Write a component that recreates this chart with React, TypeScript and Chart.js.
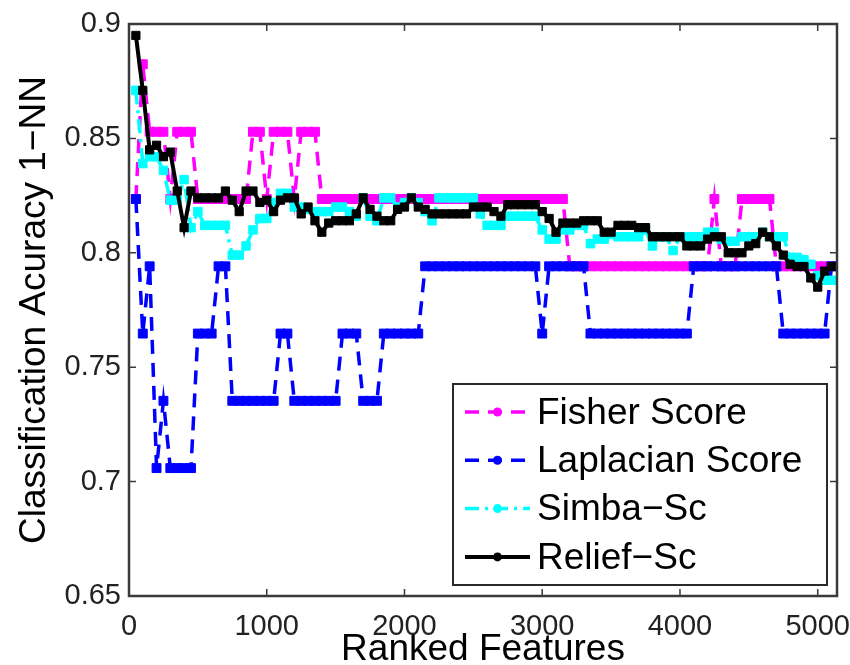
import React, { useEffect, useRef } from 'react';
import { Chart, registerables } from 'chart.js';

Chart.register(...registerables);

// ---- data -------------------------------------------------------------
const FEATURES = [
  50, 100, 150, 200, 250, 300, 350, 400, 450, 500,
  550, 600, 650, 700, 750, 800, 850, 900, 950, 1000,
  1050, 1100, 1150, 1200, 1250, 1300, 1350, 1400, 1450, 1500,
  1550, 1600, 1650, 1700, 1750, 1800, 1850, 1900, 1950, 2000,
  2050, 2100, 2150, 2200, 2250, 2300, 2350, 2400, 2450, 2500,
  2550, 2600, 2650, 2700, 2750, 2800, 2850, 2900, 2950, 3000,
  3050, 3100, 3150, 3200, 3250, 3300, 3350, 3400, 3450, 3500,
  3550, 3600, 3650, 3700, 3750, 3800, 3850, 3900, 3950, 4000,
  4050, 4100, 4150, 4200, 4250, 4300, 4350, 4400, 4450, 4500,
  4550, 4600, 4650, 4700, 4750, 4800, 4850, 4900, 4950, 5000,
  5050, 5100,
];

const FISHER = [
  0.8235, 0.8824, 0.8529, 0.8529, 0.8529, 0.8235, 0.8529, 0.8529, 0.8529, 0.8235,
  0.8235, 0.8235, 0.8235, 0.8235, 0.8235, 0.8235, 0.8235, 0.8529, 0.8529, 0.8235,
  0.8529, 0.8529, 0.8529, 0.8235, 0.8529, 0.8529, 0.8529, 0.8235, 0.8235, 0.8235,
  0.8235, 0.8235, 0.8235, 0.8235, 0.8235, 0.8235, 0.8235, 0.8235, 0.8235, 0.8235,
  0.8235, 0.8235, 0.8235, 0.8235, 0.8235, 0.8235, 0.8235, 0.8235, 0.8235, 0.8235,
  0.8235, 0.8235, 0.8235, 0.8235, 0.8235, 0.8235, 0.8235, 0.8235, 0.8235, 0.8235,
  0.8235, 0.8235, 0.8235, 0.7941, 0.7941, 0.7941, 0.7941, 0.7941, 0.7941, 0.7941,
  0.7941, 0.7941, 0.7941, 0.7941, 0.7941, 0.7941, 0.7941, 0.7941, 0.7941, 0.7941,
  0.7941, 0.7941, 0.7941, 0.7941, 0.8235, 0.7941, 0.7941, 0.7941, 0.8235, 0.8235,
  0.8235, 0.8235, 0.8235, 0.7941, 0.7941, 0.7941, 0.7941, 0.7941, 0.7941, 0.7941,
  0.7941, 0.7941,
];

const LAPLACIAN = [
  0.8235, 0.7647, 0.7941, 0.7059, 0.7353, 0.7059, 0.7059, 0.7059, 0.7059, 0.7647,
  0.7647, 0.7647, 0.7941, 0.7941, 0.7353, 0.7353, 0.7353, 0.7353, 0.7353, 0.7353,
  0.7353, 0.7647, 0.7647, 0.7353, 0.7353, 0.7353, 0.7353, 0.7353, 0.7353, 0.7353,
  0.7647, 0.7647, 0.7647, 0.7353, 0.7353, 0.7353, 0.7647, 0.7647, 0.7647, 0.7647,
  0.7647, 0.7647, 0.7941, 0.7941, 0.7941, 0.7941, 0.7941, 0.7941, 0.7941, 0.7941,
  0.7941, 0.7941, 0.7941, 0.7941, 0.7941, 0.7941, 0.7941, 0.7941, 0.7941, 0.7647,
  0.7941, 0.7941, 0.7941, 0.7941, 0.7941, 0.7941, 0.7647, 0.7647, 0.7647, 0.7647,
  0.7647, 0.7647, 0.7647, 0.7647, 0.7647, 0.7647, 0.7647, 0.7647, 0.7647, 0.7647,
  0.7647, 0.7941, 0.7941, 0.7941, 0.7941, 0.7941, 0.7941, 0.7941, 0.7941, 0.7941,
  0.7941, 0.7941, 0.7941, 0.7941, 0.7647, 0.7647, 0.7647, 0.7647, 0.7647, 0.7647,
  0.7647, 0.7941,
];

const SIMBA = [
  0.871, 0.839, 0.842, 0.842, 0.836, 0.823, 0.823, 0.832, 0.811, 0.818,
  0.812, 0.812, 0.812, 0.812, 0.799, 0.799, 0.803, 0.810, 0.815, 0.815,
  0.822, 0.826, 0.826, 0.820, 0.820, 0.819, 0.818, 0.818, 0.818, 0.820,
  0.820, 0.818, 0.816, 0.824, 0.816, 0.814, 0.824, 0.824, 0.820, 0.822,
  0.824, 0.822, 0.818, 0.814, 0.824, 0.824, 0.824, 0.824, 0.824, 0.824,
  0.817, 0.812, 0.812, 0.812, 0.816, 0.816, 0.816, 0.816, 0.816, 0.810,
  0.806, 0.806, 0.810, 0.810, 0.812, 0.812, 0.804, 0.806, 0.806, 0.808,
  0.807, 0.807, 0.807, 0.807, 0.810, 0.803, 0.807, 0.807, 0.801, 0.807,
  0.807, 0.807, 0.807, 0.809, 0.809, 0.806, 0.805, 0.805, 0.807, 0.807,
  0.807, 0.809, 0.807, 0.807, 0.807, 0.798, 0.798, 0.797, 0.795, 0.790,
  0.788, 0.788,
];

const RELIEF = [
  0.895, 0.871, 0.845, 0.847, 0.842, 0.844, 0.827, 0.811, 0.827, 0.824,
  0.824, 0.824, 0.824, 0.827, 0.823, 0.818, 0.827, 0.827, 0.822, 0.823,
  0.818, 0.823, 0.824, 0.824, 0.817, 0.820, 0.814, 0.809, 0.813, 0.814,
  0.814, 0.814, 0.817, 0.824, 0.819, 0.816, 0.814, 0.814, 0.819, 0.820,
  0.824, 0.820, 0.819, 0.817, 0.817, 0.817, 0.817, 0.817, 0.817, 0.820,
  0.820, 0.820, 0.818, 0.816, 0.821, 0.821, 0.821, 0.821, 0.821, 0.818,
  0.815, 0.809, 0.813, 0.813, 0.813, 0.814, 0.814, 0.814, 0.809, 0.809,
  0.812, 0.812, 0.812, 0.811, 0.811, 0.807, 0.807, 0.807, 0.807, 0.807,
  0.803, 0.803, 0.803, 0.806, 0.807, 0.807, 0.800, 0.800, 0.800, 0.803,
  0.804, 0.809, 0.807, 0.803, 0.799, 0.795, 0.794, 0.794, 0.789, 0.785,
  0.792, 0.794,
];

const SERIES_NAMES = ['Fisher Score', 'Laplacian Score', 'Simba\u2212Sc', 'Relief\u2212Sc'];
const SERIES_COLORS = ['#ff00ff', '#0000ff', '#00ffff', '#000000'];

const X_TICKS = [0, 1000, 2000, 3000, 4000, 5000];
const X_TICK_LABELS = ['0', '1000', '2000', '3000', '4000', '5000'];
const Y_TICKS = [0.65, 0.7, 0.75, 0.8, 0.85, 0.9];
const Y_TICK_LABELS = ['0.65', '0.7', '0.75', '0.8', '0.85', '0.9'];
const X_TITLE = 'Ranked Features';
const Y_TITLE = 'Classification Acuracy 1\u2212NN';
const X_MIN = 0;
const X_MAX = 5140;
const Y_MIN = 0.65;
const Y_MAX = 0.9;

// ---- styling ----------------------------------------------------------
const FONT = '"Liberation Sans", Arial, Helvetica, sans-serif';
const SERIES_DASH = [[14, 9], [14, 9], [14, 6, 3, 6], []];
const SERIES_WIDTH = [3.5, 3.5, 3.5, 4];
const SERIES_RADIUS = [6.3, 6.3, 6, 5.8];
const SERIES_ORDER = [4, 3, 2, 1];

const toPoints = (values: number[]) => FEATURES.map((f, i) => ({ x: f, y: values[i] }));

const axesBoxPlugin = {
  id: 'axesBox',
  afterDatasetsDraw(chart: any) {
    const { ctx, chartArea: a } = chart;
    const xs = chart.scales.x;
    const ys = chart.scales.y;
    ctx.save();
    ctx.strokeStyle = '#3a3a3a';
    ctx.lineWidth = 1.5;
    ctx.beginPath();
    for (const v of X_TICKS) {
      const px = xs.getPixelForValue(v);
      ctx.moveTo(px, a.bottom);
      ctx.lineTo(px, a.bottom - 7);
      ctx.moveTo(px, a.top);
      ctx.lineTo(px, a.top + 7);
    }
    for (const v of Y_TICKS) {
      const py = ys.getPixelForValue(v);
      ctx.moveTo(a.left, py);
      ctx.lineTo(a.left + 7, py);
      ctx.moveTo(a.right, py);
      ctx.lineTo(a.right - 7, py);
    }
    ctx.stroke();
    ctx.lineWidth = 2.5;
    ctx.strokeRect(a.left, a.top, a.right - a.left, a.bottom - a.top);
    ctx.restore();
  },
};

const boxLegendPlugin = {
  id: 'boxLegend',
  afterDraw(chart: any) {
    const { ctx, chartArea: a } = chart;
    const w = 374;
    const h = 201;
    const right = a.right - 10;
    const bottom = a.bottom - 11;
    const left = right - w;
    const top = bottom - h;
    ctx.save();
    ctx.fillStyle = '#ffffff';
    ctx.fillRect(left, top, w, h);
    ctx.strokeStyle = '#2a2a2a';
    ctx.lineWidth = 2;
    ctx.strokeRect(left, top, w, h);
    chart.data.datasets.forEach((ds: any, i: number) => {
      const cy = top + 28 + i * 48.3;
      ctx.setLineDash(ds.borderDash || []);
      ctx.lineDashOffset = 0;
      ctx.strokeStyle = ds.borderColor;
      ctx.lineWidth = ds.borderWidth;
      ctx.beginPath();
      ctx.moveTo(left + 12, cy);
      ctx.lineTo(left + 77, cy);
      ctx.stroke();
      ctx.setLineDash([]);
      ctx.fillStyle = ds.borderColor;
      ctx.beginPath();
      ctx.arc(left + 44.5, cy, 4.5, 0, Math.PI * 2);
      ctx.fill();
      ctx.fillStyle = '#000000';
      ctx.font = `37px ${FONT}`;
      ctx.textAlign = 'left';
      ctx.textBaseline = 'middle';
      ctx.fillText(ds.label, left + 84, cy + 1.5);
    });
    ctx.restore();
  },
};

export default function App() {
  const canvasRef = useRef<HTMLCanvasElement | null>(null);

  useEffect(() => {
    const canvas = canvasRef.current;
    if (!canvas) return;
    const seriesValues = [FISHER, LAPLACIAN, SIMBA, RELIEF];
    const chart = new Chart(canvas, {
      type: 'line',
      data: {
        datasets: seriesValues.map((vals, i) => ({
          label: SERIES_NAMES[i],
          data: toPoints(vals),
          borderColor: SERIES_COLORS[i],
          backgroundColor: SERIES_COLORS[i],
          borderWidth: SERIES_WIDTH[i],
          borderDash: SERIES_DASH[i],
          pointStyle: 'rect',
          pointRadius: SERIES_RADIUS[i],
          pointBorderWidth: 1,
          pointBorderColor: SERIES_COLORS[i],
          pointBackgroundColor: SERIES_COLORS[i],
          tension: 0,
          fill: false,
          order: SERIES_ORDER[i],
        })),
      },
      options: {
        animation: false,
        responsive: false,
        devicePixelRatio: 1,
        layout: { padding: { left: 0, right: 13, top: 24, bottom: 0 } },
        plugins: {
          legend: { display: false },
          tooltip: { enabled: false },
        },
        scales: {
          x: {
            type: 'linear',
            min: X_MIN,
            max: X_MAX,
            afterBuildTicks: (s: any) => {
              s.ticks = X_TICKS.map((v) => ({ value: v }));
            },
            afterFit: (s: any) => {
              s.height = 69;
              s.paddingLeft = 0;
              s.paddingRight = 0;
              s.paddingTop = 0;
              s.paddingBottom = 0;
            },
            grid: { display: false, drawTicks: false },
            border: { display: false },
            ticks: {
              autoSkip: false,
              maxRotation: 0,
              padding: 14,
              color: '#222222',
              font: { family: FONT, size: 29 },
              callback: (_v: any, idx: number) => X_TICK_LABELS[idx],
            },
            title: {
              display: true,
              text: X_TITLE,
              color: '#000000',
              font: { family: FONT, size: 37, lineHeight: 0.8 },
              padding: 0,
            },
          },
          y: {
            type: 'linear',
            min: Y_MIN,
            max: Y_MAX,
            afterBuildTicks: (s: any) => {
              s.ticks = Y_TICKS.map((v) => ({ value: v }));
            },
            afterFit: (s: any) => {
              s.width = 129;
              s.paddingLeft = 0;
              s.paddingRight = 0;
              s.paddingTop = 0;
              s.paddingBottom = 0;
            },
            grid: { display: false, drawTicks: false },
            border: { display: false },
            ticks: {
              autoSkip: false,
              padding: 8,
              color: '#222222',
              font: { family: FONT, size: 29 },
              callback: (_v: any, idx: number) => Y_TICK_LABELS[idx],
            },
            title: {
              display: true,
              text: Y_TITLE,
              color: '#000000',
              font: { family: FONT, size: 37, lineHeight: 1 },
              padding: { top: 16, bottom: 0 },
            },
          },
        },
      },
      plugins: [axesBoxPlugin, boxLegendPlugin],
    } as any);
    return () => chart.destroy();
  }, []);

  return (
    <div style={{ position: 'absolute', left: 0, top: 0, width: 850, height: 665, background: '#ffffff' }}>
      <canvas ref={canvasRef} width={850} height={665} style={{ display: 'block' }} />
    </div>
  );
}
